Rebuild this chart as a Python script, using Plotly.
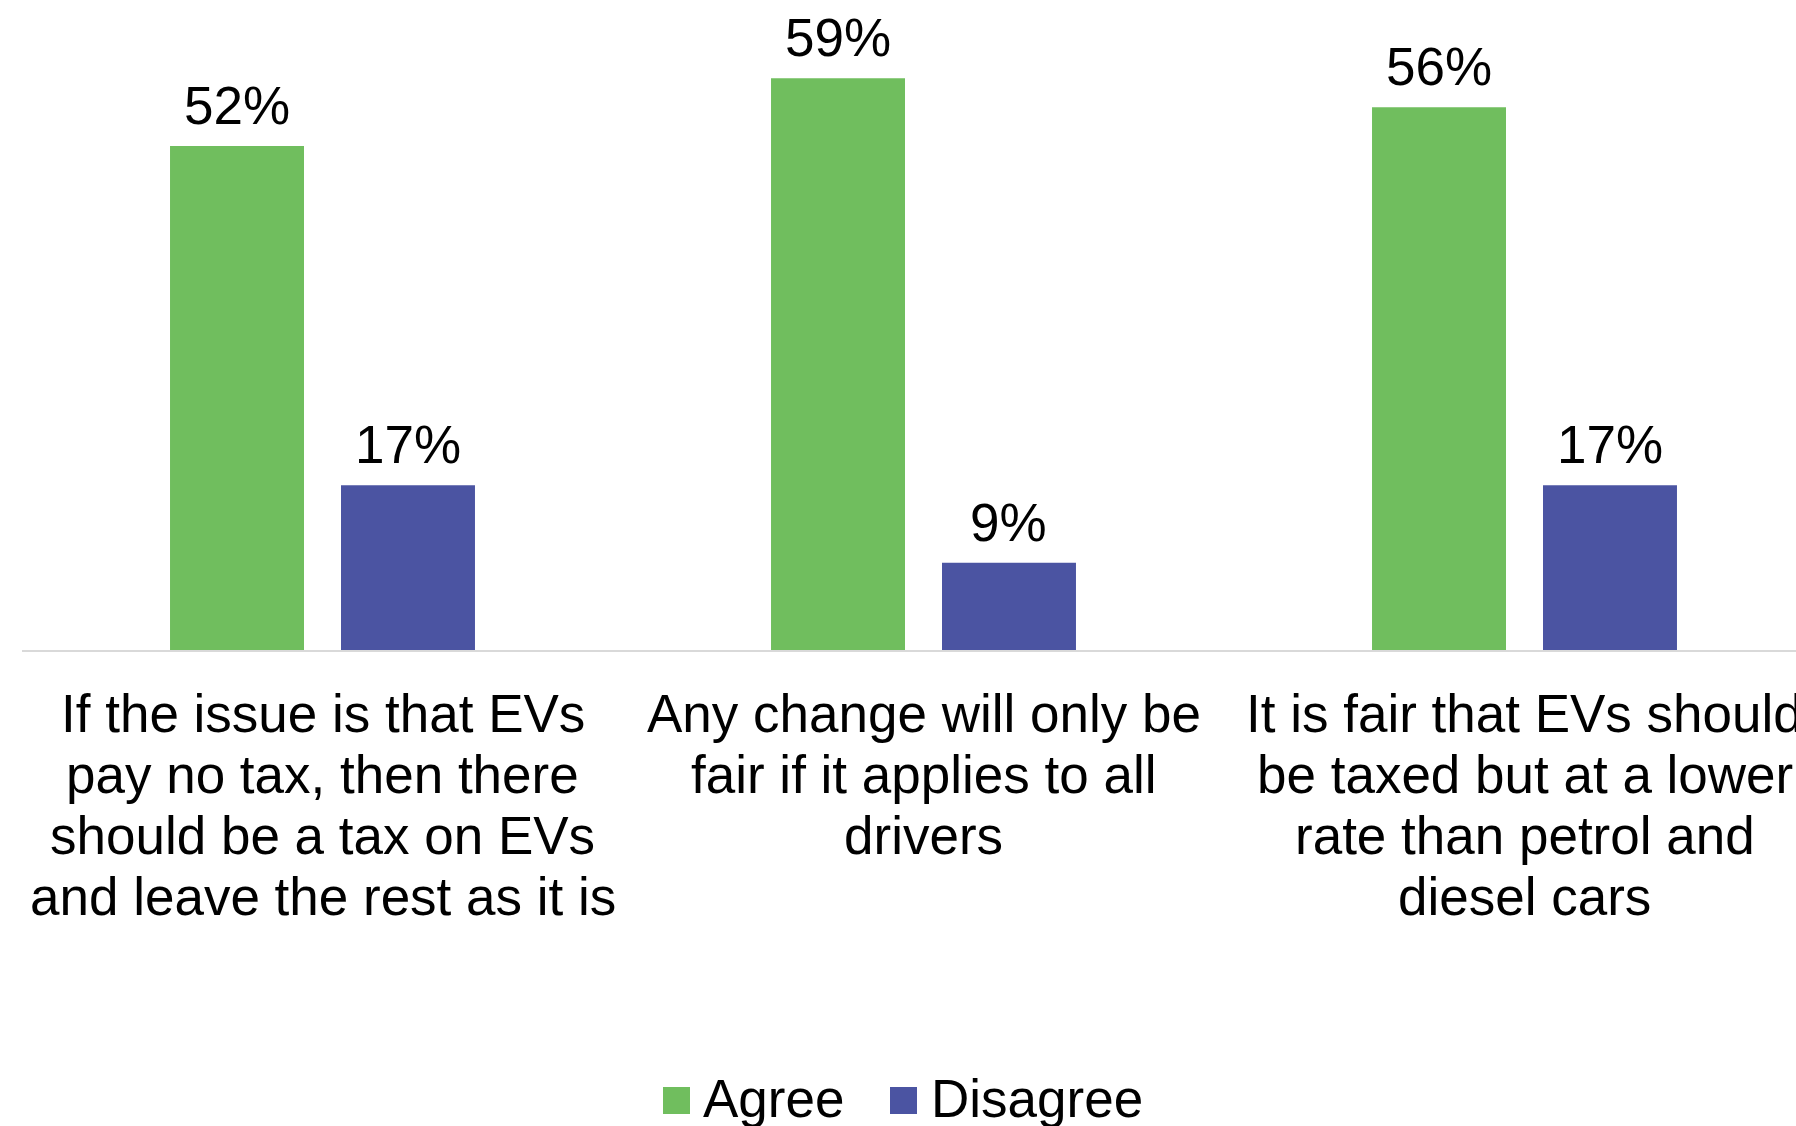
import plotly.graph_objects as go

# Survey statements (one list entry per wrapped line) and response shares
statements = [
    ["If the issue is that EVs", "pay no tax, then there",
     "should be a tax on EVs", "and leave the rest as it is"],
    ["Any change will only be", "fair if it applies to all", "drivers"],
    ["It is fair that EVs should", "be taxed but at a lower",
     "rate than petrol and", "diesel cars"],
]
series_names = ["Agree", "Disagree"]
agree = [52, 59, 56]
disagree = [17, 9, 17]
series_colors = ["#70BE5E", "#4B54A2"]

FONT = "Liberation Sans, Arial, sans-serif"
FS = 53

W, H = 1796, 1126
ML, MR, MT, MB = 22, 0, 20, 476
plot_w = W - ML - MR
plot_h = H - MT - MB
cat_px = 601  # width of one category band in pixels

BARGAP = 0.431
BARGROUPGAP = 0.2164

categories = [" ".join(lines) for lines in statements]
values = [agree, disagree]

fig = go.Figure()
for name, vals, col in zip(series_names, values, series_colors):
    fig.add_trace(go.Bar(
        x=categories, y=vals, name=name,
        marker=dict(color=col, line=dict(width=0)),
        showlegend=False, hoverinfo="skip",
    ))

# offset of each series' bar centre from its category centre (category units)
slot = (1 - BARGAP) / len(values)
offsets = [(k - (len(values) - 1) / 2) * slot for k in range(len(values))]

annotations = []
for vals, off in zip(values, offsets):
    for i, v in enumerate(vals):
        annotations.append(dict(
            x=i + off, y=v, xref="x", yref="y", text=f"{v}%",
            showarrow=False, xanchor="center", yanchor="bottom", yshift=9,
            font=dict(family=FONT, size=FS, color="black"),
        ))

# wrapped category labels, one annotation per line for tight line spacing
LINE_STEP = 61.2
for i, lines in enumerate(statements):
    for j, line in enumerate(lines):
        annotations.append(dict(
            x=i, y=0, xref="x", yref="paper", text=line,
            showarrow=False, xanchor="center", yanchor="top",
            yshift=-(31.5 + j * LINE_STEP),
            font=dict(family=FONT, size=FS, color="black"),
        ))


def px_x(p):
    return (p - ML) / plot_w


def px_y(p):
    return (H - MB - p) / plot_h


# legend drawn below the plot: coloured squares with series names
legend_items = [(663, 703), (890, 931)]
shapes = []
for (sq_left, txt_left), name, col in zip(legend_items, series_names, series_colors):
    shapes.append(dict(
        type="rect", xref="paper", yref="paper",
        x0=px_x(sq_left), x1=px_x(sq_left + 27),
        y0=px_y(1114), y1=px_y(1087),
        fillcolor=col, line=dict(width=0),
    ))
    annotations.append(dict(
        x=px_x(txt_left - 2), y=px_y(1117 + 13), xref="paper", yref="paper",
        text=name, showarrow=False, xanchor="left", yanchor="bottom",
        font=dict(family=FONT, size=FS, color="black"),
    ))

fig.update_layout(
    width=W, height=H,
    margin=dict(l=ML, r=MR, t=MT, b=MB, autoexpand=False),
    paper_bgcolor="white", plot_bgcolor="white",
    barmode="group", bargap=BARGAP, bargroupgap=BARGROUPGAP,
    font=dict(family=FONT, size=FS, color="black"),
    xaxis=dict(
        type="category", range=[-0.5, -0.5 + plot_w / cat_px],
        showticklabels=False, ticks="", showgrid=False,
        showline=True, linecolor="#D9D9D9", linewidth=2,
        zeroline=False, fixedrange=True,
    ),
    yaxis=dict(
        range=[0, 65], visible=False, showgrid=False, zeroline=False,
        fixedrange=True,
    ),
    annotations=annotations,
    shapes=shapes,
    showlegend=False,
)

fig.write_html("out.html")
